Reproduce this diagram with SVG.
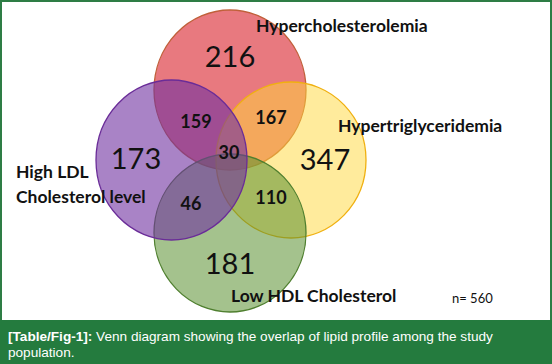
<svg xmlns="http://www.w3.org/2000/svg" width="552" height="364" viewBox="0 0 552 364">
<style>
.lbl{font-family:Lato,"Open Sans",sans-serif;font-weight:bold;font-size:17.5px;fill:#111}
.big{font-family:Lato,"Open Sans",sans-serif;font-size:29px;fill:#111;text-anchor:middle}
.num{font-family:Lato,"Open Sans",sans-serif;font-weight:bold;font-size:18px;fill:#111;text-anchor:middle}
.cap{font-family:"Liberation Sans",Arial,sans-serif;font-size:13.6px;fill:#fff}
</style>
<rect x="0" y="0" width="552" height="364" fill="#fff"/>
<rect x="1" y="1" width="550" height="320" fill="none" stroke="#2e7d45" stroke-width="2"/>
<g id="hypercholesterolemia">
<ellipse cx="230" cy="90" rx="76" ry="80" fill="#d9202a" fill-opacity="0.6" stroke="#c0603a" stroke-width="1.3"/>
</g>
<g id="hypertriglyceridemia">
<ellipse cx="291" cy="160" rx="75" ry="78" fill="#ffd83a" fill-opacity="0.5" stroke="#f0b010" stroke-width="1.3"/>
</g>
<g id="low-hdl">
<ellipse cx="230" cy="233" rx="76" ry="79" fill="#5a8f30" fill-opacity="0.55" stroke="#4f7f2f" stroke-width="1.3"/>
</g>
<g id="high-ldl">
<ellipse cx="171.5" cy="160" rx="75.5" ry="80" fill="#7030a0" fill-opacity="0.6" stroke="#6a2c98" stroke-width="1.3"/>
</g>
<g id="connectors"></g>
<g id="labels">
<text class="lbl" x="256" y="32">Hypercholesterolemia</text>
<text class="lbl" x="338" y="132">Hypertriglyceridemia</text>
<text class="lbl" x="16" y="178">High LDL</text>
<text class="lbl" x="16" y="203">Cholesterol level</text>
<text class="lbl" x="231" y="302">Low HDL Cholesterol</text>
<text x="452" y="303" style="font-family:Lato,'Open Sans',sans-serif;font-size:13px;fill:#111">n= 560</text>
</g>
<g id="counts">
<text class="big" x="230" y="67">216</text>
<text class="big" x="136" y="169">173</text>
<text class="big" x="325" y="170">347</text>
<text class="big" x="230" y="274">181</text>
<text class="num" x="196" y="128">159</text>
<text class="num" x="271" y="124">167</text>
<text class="num" x="229" y="159">30</text>
<text class="num" x="191" y="210">46</text>
<text class="num" x="271" y="204">110</text>
</g>
<g id="caption">
<rect x="0" y="320" width="552" height="44" fill="#247b3e"/>
<text class="cap" x="8" y="341"><tspan font-weight="bold">[Table/Fig-1]:</tspan> Venn diagram showing the overlap of lipid profile among the study</text>
<text class="cap" x="8" y="357">population.</text>
</g>
</svg>
